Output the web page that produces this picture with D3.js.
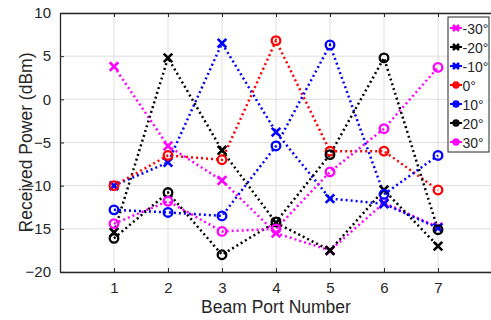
<!DOCTYPE html>
<html>
<head>
<meta charset="utf-8">
<script src="https://cdn.jsdelivr.net/npm/d3@7"></script>
<style>
  body { margin: 0; background: #fff; }
  text { font-family: "Liberation Sans", Arial, sans-serif; fill: #262626; }
</style>
</head>
<body>
<div id="chart"></div>
<script>
const ports = [1, 2, 3, 4, 5, 6, 7]
const yTicks = [-20, -15, -10, -5, 0, 5, 10]

const angleLabels = ['-30°', '-20°', '-10°', '0°', '10°', '20°', '30°']
const angleColors = ['#ff00ff', '#000000', '#0000ff', '#ff0000', '#0000ff', '#000000', '#ff00ff']
const angleMarkers = ['x', 'x', 'x', 'o', 'o', 'o', 'o']

const minus30 = [3.8, -5.4, -9.4, -15.5, -17.5, -12.0, -14.8]
const minus20 = [-15.4, 4.8, -5.9, -14.3, -17.5, -10.5, -17.0]
const minus10 = [-10.0, -7.3, 6.5, -3.8, -11.5, -12.1, -14.9]
const zero = [-10.0, -6.5, -7.0, 6.8, -6.0, -6.0, -10.5]
const plus10 = [-12.8, -13.1, -13.5, -5.4, 6.3, -11.0, -6.5]
const plus20 = [-16.1, -10.8, -18.0, -14.2, -6.4, 4.8, -15.1]
const plus30 = [-14.4, -11.8, -15.3, -15.0, -8.4, -3.4, 3.7]

const seriesValues = [minus30, minus20, minus10, zero, plus10, plus20, plus30]

const W = 491, H = 320
const margin = { left: 60, right: -1, top: 13, bottom: 48 }
const width = W - margin.left - margin.right
const height = H - margin.top - margin.bottom

const svg = d3.select('#chart').append('svg')
  .attr('width', W)
  .attr('height', H)

const g = svg.append('g')
  .attr('transform', 'translate(' + margin.left + ',' + margin.top + ')')

const xScale = d3.scaleLinear().domain([0, 8]).range([0, width])
const yScale = d3.scaleLinear().domain([-20, 10]).range([height, 0])

// grid
g.append('g').selectAll('line').data(ports).enter().append('line')
  .attr('x1', d => xScale(d)).attr('x2', d => xScale(d))
  .attr('y1', 0).attr('y2', height)
  .attr('stroke', '#dfdfdf').attr('stroke-width', 1)
g.append('g').selectAll('line').data(yTicks).enter().append('line')
  .attr('x1', 0).attr('x2', width)
  .attr('y1', d => yScale(d)).attr('y2', d => yScale(d))
  .attr('stroke', '#dfdfdf').attr('stroke-width', 1)

// axes
const xAxis = d3.axisBottom(xScale).tickValues(ports).tickSizeInner(-4).tickSizeOuter(0).tickPadding(10)
const yAxis = d3.axisLeft(yScale).tickValues(yTicks).tickSizeInner(-4).tickSizeOuter(0).tickPadding(9)
const xTop = d3.axisTop(xScale).tickValues(ports).tickSizeInner(-4).tickSizeOuter(0).tickFormat('')

g.append('g').attr('class', 'x-axis')
  .attr('transform', 'translate(0,' + height + ')')
  .call(xAxis)
g.append('g').attr('class', 'x-top').call(xTop)
g.append('g').attr('class', 'y-axis').call(yAxis)

g.selectAll('.x-axis path, .x-top path, .y-axis path, .tick line')
  .attr('stroke', '#262626')
g.selectAll('.x-axis path, .x-top path, .y-axis path').attr('stroke-width', 1.3)
g.selectAll('.tick text').style('font-size', '15px').attr('fill', '#262626')
  .style('font-family', '"Liberation Sans", Arial, sans-serif')

// lines + markers
const line = d3.line().x((d, i) => xScale(ports[i])).y(d => yScale(d))

const drawMarker = (sel, type, color, s) => {
  if (type === 'x') {
    sel.append('path')
      .attr('d', 'M' + (-s) + ',' + (-s) + 'L' + s + ',' + s + 'M' + (-s) + ',' + s + 'L' + s + ',' + (-s))
      .attr('stroke', color).attr('stroke-width', 2.6).attr('fill', 'none')
  } else {
    sel.append('circle').attr('r', s)
      .attr('stroke', color).attr('stroke-width', 2.3).attr('fill', 'none')
  }
}

seriesValues.forEach((vals, k) => {
  g.append('path')
    .datum(vals)
    .attr('d', line)
    .attr('fill', 'none')
    .attr('stroke', angleColors[k])
    .attr('stroke-width', 2.5)
    .attr('stroke-dasharray', '2,3')
})
seriesValues.forEach((vals, k) => {
  vals.forEach((v, i) => {
    const m = g.append('g').attr('transform', 'translate(' + xScale(ports[i]) + ',' + yScale(v) + ')')
    drawMarker(m, angleMarkers[k], angleColors[k], 4.3)
  })
})

// axis titles
svg.append('text')
  .attr('x', margin.left + xScale(4))
  .attr('y', 313)
  .attr('text-anchor', 'middle')
  .style('font-size', '17.5px')
  .text('Beam Port Number')

svg.append('text')
  .attr('transform', 'translate(32,' + (margin.top + height / 2) + ') rotate(-90)')
  .attr('text-anchor', 'middle')
  .style('font-size', '17.5px')
  .text('Received Power (dBm)')

// legend
const legend = svg.append('g').attr('transform', 'translate(448,17)')
legend.append('rect')
  .attr('width', 41).attr('height', 135)
  .attr('fill', '#fff').attr('stroke', '#262626').attr('stroke-width', 1)

const item = legend.selectAll('.legend').data(angleLabels).enter().append('g')
  .attr('class', 'legend')
  .attr('transform', (d, i) => 'translate(0,' + (11 + i * 19) + ')')

item.append('line')
  .attr('x1', 2).attr('x2', 14)
  .attr('stroke', (d, i) => angleColors[i]).attr('stroke-width', 2)
item.each(function(d, i) {
  const m = d3.select(this).append('g').attr('transform', 'translate(8,0)')
  drawMarker(m, angleMarkers[i], angleColors[i], angleMarkers[i] === 'x' ? 3 : 2.5)
})
item.append('text')
  .attr('x', 14.5).attr('y', 5.5)
  .style('font-size', '14px')
  .text(d => d)
</script>
</body>
</html>
